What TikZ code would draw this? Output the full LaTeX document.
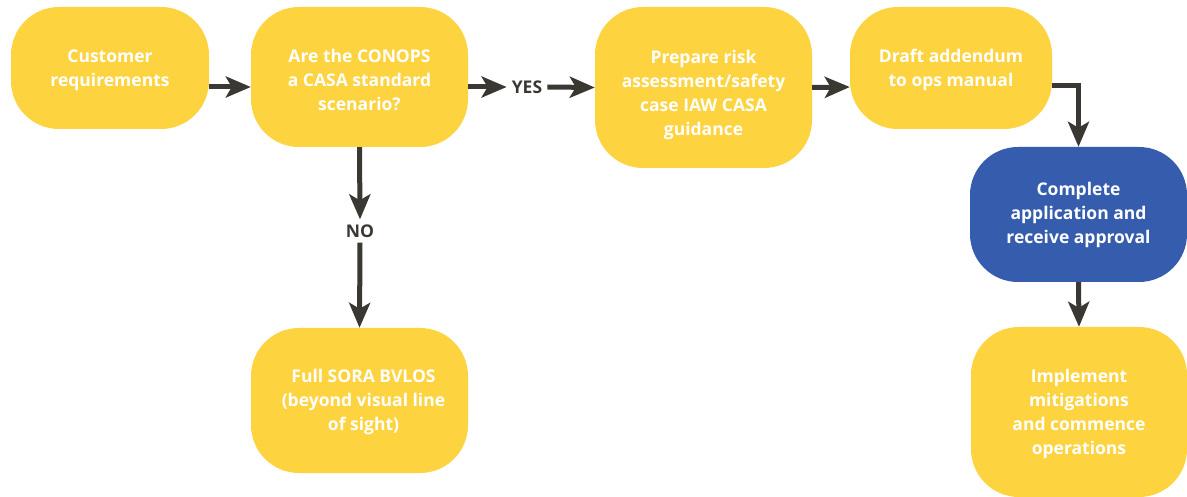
\documentclass[tikz,border=0pt]{standalone}
\usepackage{fontspec}
\setmainfont{Open Sans}
\usetikzlibrary{arrows.meta,calc}
\definecolor{yel}{HTML}{FED340}
\definecolor{blu}{HTML}{365CAD}
\definecolor{ink}{HTML}{3B3833}
\begin{document}
\begin{tikzpicture}[x=1pt,y=-1pt,
  box/.style={fill=yel,rounded corners=48pt,inner sep=0pt},
  tx/.style={text=white,align=center,inner sep=0pt,
    font=\fontsize{17.5}{24}\selectfont\bfseries},
  lbl/.style={text=ink,font=\fontsize{17.5}{20}\selectfont\bfseries,inner sep=5pt},
  arr/.style={draw=ink,line width=5pt,-{Stealth[length=25pt,width=21pt,inset=6pt]}}]
\path[use as bounding box,fill=white] (0,0) rectangle (1187,497);
\node[box,minimum width=198pt,minimum height=122pt] (n1) at (110,68) {};
\node[box,minimum width=217pt,minimum height=140pt] (n2) at (359.5,77) {};
\node[box,minimum width=217pt,minimum height=161pt] (n3) at (703.5,87.5) {};
\node[box,minimum width=202pt,minimum height=122pt] (n4) at (951,68) {};
\node[box,fill=blu,minimum width=217pt,minimum height=135pt] (n5) at (1078.5,214.5) {};
\node[box,minimum width=216pt,minimum height=170pt] (n6) at (1079,412) {};
\node[box,minimum width=217pt,minimum height=145pt] (n7) at (359.5,400.5) {};
\node[tx] (t1) at ([yshift=-2pt]n1.center) {Customer\\requirements};
\node[tx] (t2) at ([yshift=-3pt]n2.center) {Are the CONOPS\\a CASA standard\\scenario?};
\node[tx] (t3) at ([yshift=-7pt]n3.center) {Prepare risk\\assessment/safety\\case IAW CASA\\guidance};
\node[tx] (t4) at ([yshift=-2pt]n4.center) {Draft addendum\\to ops manual};
\node[tx] (t5) at (n5.center) {Complete\\application and\\receive approval};
\node[tx] (t6) at ([yshift=-2pt]n6.center) {Implement\\mitigations\\and commence\\operations};
\node[tx] (t7) at ([xshift=4pt,yshift=-1pt]n7.center) {Full SORA BVLOS\\(beyond visual line\\of sight)};
\node[lbl] (yes) at (527,87) {YES};
\node[lbl] (no) at (360,231) {NO};
\draw[arr] ([yshift=-19pt]n1.east) -- ([yshift=-10pt]n2.west);
\draw[arr] ([yshift=-10pt]n2.east) -- (yes.west);
\draw[arr] (yes.east) -- (n3.west);
\draw[arr] (n3.east) -- ([yshift=-19pt]n4.west);
\draw[arr] ([yshift=-18pt]n4.east) -| (n5.north);
\draw[arr] (n5.south) -- (n6.north);
\draw[arr] (n2.south) -- (no.north);
\draw[arr] (no.south) -- (n7.north);
\end{tikzpicture}
\end{document}
